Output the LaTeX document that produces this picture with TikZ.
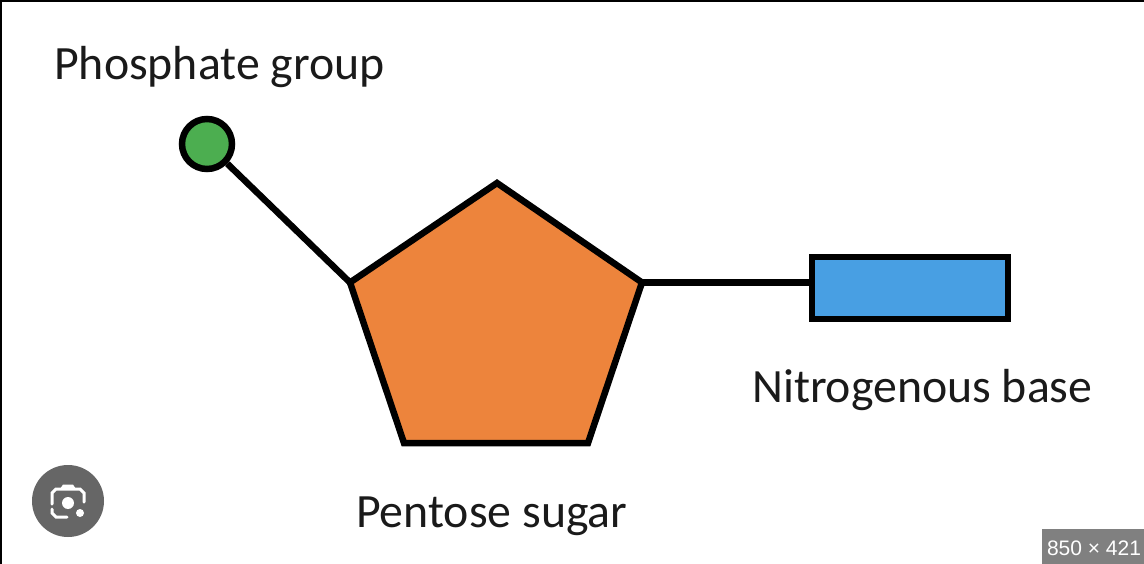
\documentclass[tikz,border=0pt]{standalone}
\usepackage{fontspec}
\setmainfont{Carlito}
\newfontfamily\badgefont{Liberation Sans}
\definecolor{sugar}{HTML}{ED843C}
\definecolor{baseblue}{HTML}{489FE3}
\definecolor{phos}{HTML}{4CAE50}
\definecolor{ink}{HTML}{1A1A1A}
\definecolor{lensgrey}{HTML}{666666}
\definecolor{badgegrey}{HTML}{808080}
\tikzset{
  shapeline/.style={draw=black,line width=6.5pt,line join=miter},
  bond/.style={draw=black,line width=6.5pt},
  lbl/.style={text=ink,font=\fontsize{47.8}{54}\selectfont,inner sep=0pt,anchor=base west},
  lensline/.style={draw=white,line width=3pt}
}
\begin{document}
\begin{tikzpicture}[x=1pt,y=-1pt]
\useasboundingbox (0,0) rectangle (1144,564);
\fill[white] (0,0) rectangle (1144,564);
\draw[black,line width=2pt] (0,1) -- (1144,1);
\draw[black,line width=2pt] (1,0) -- (1,564);
% pentagon corners
\coordinate (pt) at (497,183);
\coordinate (pr) at (642,282.5);
\coordinate (pbr) at (588,443);
\coordinate (pbl) at (404,443);
\coordinate (pl) at (350,282.5);
\node[circle,minimum size=50pt,inner sep=0pt,fill=phos,shapeline] (phosphate) at (207,144) {};
\node[minimum width=196pt,minimum height=62pt,inner sep=0pt,fill=baseblue,shapeline] (base) at (910,288) {};
\draw[bond] (phosphate) -- (pl);
\draw[bond] (pr) -- (base.west |- pr);
\draw[shapeline,fill=sugar] (pt) -- (pr) -- (pbr) -- (pbl) -- (pl) -- cycle;
\node[lbl] (lp) at (54,80) {Phosphate group};
\node[lbl] (ln) at (752,402) {Nitrogenous base};
\node[lbl] (ls) at (356,527) {Pentose sugar};
% lens badge
\fill[lensgrey] (68,501) circle (36);
\draw[lensline,line cap=round] (52,504) -- (52,493) -- (56,489) -- (80,489) -- (84,493) -- (84,502);
\draw[lensline,line cap=round] (52,509) -- (52,513) -- (56,517) -- (67,517);
\fill[white] (60,489) -- (63,484.5) -- (73,484.5) -- (76,489) -- cycle;
\fill[white] (68,503) circle (6);
\fill[white] (80,513) circle (4);
% size badge
\fill[badgegrey] (1042,529) rectangle (1144,564);
\node[text=white,font=\badgefont\fontsize{21}{24}\selectfont,inner sep=0pt] (size) at (1094,548) {850 × 421};
\end{tikzpicture}
\end{document}
